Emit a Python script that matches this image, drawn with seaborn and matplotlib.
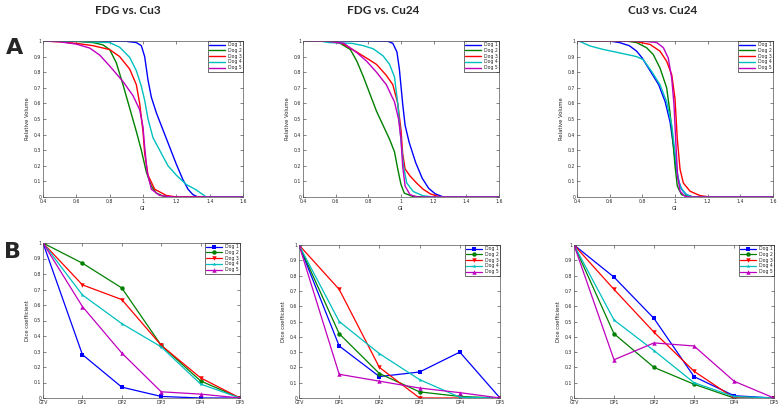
import numpy as np
import pandas as pd
import matplotlib
matplotlib.use("Agg")
import matplotlib.pyplot as plt
import seaborn as sns

dogs = ["Dog 1", "Dog 2", "Dog 3", "Dog 4", "Dog 5"]
colors = ["#0000ff", "#008000", "#ff0000", "#00bfbf", "#bf00bf"]
markers = ["s", "o", "v", "*", "^"]
titles = ["FDG vs. Cu3", "FDG vs. Cu24", "Cu3 vs. Cu24"]

# --- row A: relative volume vs GI ---
# FDG vs. Cu3
a1_gi_dog1 = [0.4, 0.7, 0.9, 0.96, 0.99, 1.01, 1.03, 1.05, 1.08, 1.12, 1.16, 1.20, 1.24, 1.27, 1.30, 1.33, 1.6]
a1_rv_dog1 = [1.0, 1.0, 0.998, 0.99, 0.97, 0.90, 0.75, 0.64, 0.54, 0.43, 0.32, 0.21, 0.11, 0.05, 0.015, 0.0, 0.0]
a1_gi_dog2 = [0.4, 0.6, 0.7, 0.76, 0.80, 0.84, 0.88, 0.92, 0.96, 0.99, 1.02, 1.05, 1.08, 1.12, 1.16, 1.6]
a1_rv_dog2 = [1.0, 0.998, 0.99, 0.975, 0.945, 0.86, 0.72, 0.57, 0.42, 0.30, 0.16, 0.07, 0.025, 0.006, 0.0, 0.0]
a1_gi_dog3 = [0.4, 0.5, 0.6, 0.7, 0.8, 0.86, 0.92, 0.96, 0.98, 1.0, 1.01, 1.03, 1.07, 1.14, 1.2, 1.6]
a1_rv_dog3 = [1.0, 0.995, 0.985, 0.97, 0.945, 0.90, 0.82, 0.72, 0.60, 0.42, 0.28, 0.14, 0.05, 0.01, 0.0, 0.0]
a1_gi_dog4 = [0.4, 0.6, 0.8, 0.86, 0.92, 0.96, 0.99, 1.01, 1.03, 1.06, 1.1, 1.15, 1.2, 1.26, 1.32, 1.38, 1.6]
a1_rv_dog4 = [1.0, 0.998, 0.99, 0.96, 0.895, 0.81, 0.71, 0.62, 0.50, 0.38, 0.30, 0.20, 0.14, 0.08, 0.045, 0.0, 0.0]
a1_gi_dog5 = [0.4, 0.5, 0.6, 0.68, 0.74, 0.80, 0.88, 0.94, 0.98, 1.0, 1.01, 1.025, 1.05, 1.1, 1.18, 1.6]
a1_rv_dog5 = [1.0, 0.995, 0.98, 0.955, 0.91, 0.84, 0.74, 0.65, 0.56, 0.45, 0.32, 0.16, 0.05, 0.01, 0.0, 0.0]

# FDG vs. Cu24
a2_gi_dog1 = [0.4, 0.8, 0.92, 0.95, 0.975, 0.99, 1.01, 1.025, 1.05, 1.09, 1.13, 1.17, 1.21, 1.26, 1.6]
a2_rv_dog1 = [1.0, 1.0, 0.998, 0.985, 0.93, 0.82, 0.60, 0.46, 0.35, 0.22, 0.12, 0.055, 0.02, 0.0, 0.0]
a2_gi_dog2 = [0.4, 0.55, 0.62, 0.69, 0.73, 0.77, 0.81, 0.85, 0.89, 0.93, 0.96, 0.98, 1.0, 1.02, 1.07, 1.14, 1.6]
a2_rv_dog2 = [1.0, 0.998, 0.99, 0.945, 0.87, 0.77, 0.66, 0.55, 0.46, 0.37, 0.29, 0.18, 0.08, 0.025, 0.004, 0.0, 0.0]
a2_gi_dog3 = [0.4, 0.55, 0.64, 0.72, 0.79, 0.85, 0.91, 0.95, 0.98, 1.0, 1.01, 1.025, 1.055, 1.095, 1.135, 1.18, 1.24, 1.6]
a2_rv_dog3 = [1.0, 0.998, 0.985, 0.935, 0.89, 0.85, 0.78, 0.72, 0.60, 0.43, 0.28, 0.18, 0.135, 0.09, 0.05, 0.02, 0.0, 0.0]
a2_gi_dog4 = [0.4, 0.5, 0.56, 0.7, 0.77, 0.83, 0.89, 0.93, 0.96, 0.98, 1.0, 1.015, 1.035, 1.075, 1.135, 1.2, 1.6]
a2_rv_dog4 = [1.0, 1.0, 0.99, 0.985, 0.97, 0.95, 0.905, 0.85, 0.77, 0.60, 0.36, 0.20, 0.09, 0.035, 0.008, 0.0, 0.0]
a2_gi_dog5 = [0.4, 0.55, 0.65, 0.73, 0.79, 0.85, 0.91, 0.96, 0.985, 1.0, 1.01, 1.025, 1.055, 1.1, 1.6]
a2_rv_dog5 = [1.0, 0.998, 0.985, 0.925, 0.87, 0.80, 0.72, 0.61, 0.50, 0.37, 0.20, 0.07, 0.015, 0.0, 0.0]

# Cu3 vs. Cu24
a3_gi_dog1 = [0.4, 0.6, 0.66, 0.72, 0.765, 0.80, 0.85, 0.90, 0.94, 0.97, 0.99, 1.006, 1.02, 1.04, 1.07, 1.11, 1.6]
a3_rv_dog1 = [1.0, 1.0, 0.99, 0.97, 0.935, 0.89, 0.805, 0.72, 0.61, 0.48, 0.33, 0.20, 0.11, 0.05, 0.015, 0.0, 0.0]
a3_gi_dog2 = [0.4, 0.7, 0.765, 0.826, 0.867, 0.908, 0.949, 0.969, 0.986, 1.0, 1.014, 1.04, 1.09, 1.6]
a3_rv_dog2 = [1.0, 1.0, 0.99, 0.957, 0.913, 0.827, 0.70, 0.545, 0.372, 0.20, 0.07, 0.015, 0.0, 0.0]
a3_gi_dog3 = [0.4, 0.7, 0.765, 0.847, 0.908, 0.949, 0.98, 1.0, 1.014, 1.031, 1.051, 1.092, 1.153, 1.214, 1.6]
a3_rv_dog3 = [1.0, 1.0, 0.996, 0.978, 0.935, 0.87, 0.784, 0.63, 0.372, 0.177, 0.09, 0.037, 0.009, 0.0, 0.0]
a3_gi_dog4 = [0.4, 0.42, 0.48, 0.56, 0.66, 0.765, 0.806, 0.857, 0.908, 0.949, 0.98, 1.0, 1.014, 1.031, 1.061, 1.102, 1.6]
a3_rv_dog4 = [1.0, 0.996, 0.968, 0.946, 0.924, 0.90, 0.88, 0.805, 0.72, 0.61, 0.46, 0.286, 0.156, 0.07, 0.022, 0.0, 0.0]
a3_gi_dog5 = [0.4, 0.8, 0.888, 0.929, 0.959, 0.98, 0.994, 1.006, 1.016, 1.031, 1.061, 1.092, 1.6]
a3_rv_dog5 = [1.0, 1.0, 0.99, 0.957, 0.89, 0.76, 0.59, 0.33, 0.134, 0.037, 0.004, 0.0, 0.0]

# --- row B: Dice coefficient per time point ---
timepoints = ["GTV", "DP1", "DP2", "DP3", "DP4", "DP5"]
b1_dog1 = [1.0, 0.28, 0.07, 0.01, 0.0, 0.0]
b1_dog2 = [1.0, 0.87, 0.71, 0.34, 0.11, 0.0]
b1_dog3 = [1.0, 0.73, 0.635, 0.34, 0.13, 0.0]
b1_dog4 = [1.0, 0.665, 0.48, 0.33, 0.09, 0.0]
b1_dog5 = [1.0, 0.59, 0.29, 0.04, 0.025, 0.0]

b2_dog1 = [1.0, 0.34, 0.14, 0.17, 0.30, 0.0]
b2_dog2 = [1.0, 0.42, 0.16, 0.04, 0.01, 0.0]
b2_dog3 = [1.0, 0.71, 0.20, 0.0, 0.0, 0.0]
b2_dog4 = [1.0, 0.50, 0.29, 0.12, 0.005, 0.0]
b2_dog5 = [1.0, 0.155, 0.11, 0.065, 0.035, 0.0]

b3_dog1 = [1.0, 0.79, 0.52, 0.14, 0.015, 0.0]
b3_dog2 = [1.0, 0.42, 0.20, 0.09, 0.0, 0.0]
b3_dog3 = [1.0, 0.71, 0.43, 0.175, 0.0, 0.0]
b3_dog4 = [1.0, 0.51, 0.31, 0.10, 0.01, 0.0]
b3_dog5 = [1.0, 0.25, 0.36, 0.34, 0.11, 0.0]

row_a = [
    [(a1_gi_dog1, a1_rv_dog1), (a1_gi_dog2, a1_rv_dog2), (a1_gi_dog3, a1_rv_dog3),
     (a1_gi_dog4, a1_rv_dog4), (a1_gi_dog5, a1_rv_dog5)],
    [(a2_gi_dog1, a2_rv_dog1), (a2_gi_dog2, a2_rv_dog2), (a2_gi_dog3, a2_rv_dog3),
     (a2_gi_dog4, a2_rv_dog4), (a2_gi_dog5, a2_rv_dog5)],
    [(a3_gi_dog1, a3_rv_dog1), (a3_gi_dog2, a3_rv_dog2), (a3_gi_dog3, a3_rv_dog3),
     (a3_gi_dog4, a3_rv_dog4), (a3_gi_dog5, a3_rv_dog5)],
]
row_b = [
    [b1_dog1, b1_dog2, b1_dog3, b1_dog4, b1_dog5],
    [b2_dog1, b2_dog2, b2_dog3, b2_dog4, b2_dog5],
    [b3_dog1, b3_dog2, b3_dog3, b3_dog4, b3_dog5],
]

sns.set_style("ticks")
plt.rcParams["font.family"] = ["DejaVu Sans"]
plt.rcParams["xtick.direction"] = "in"
plt.rcParams["ytick.direction"] = "in"

W, H = 778, 408
fig = plt.figure(figsize=(W / 100, H / 100), dpi=100)


def px_axes(l, t, r, b):
    return fig.add_axes([l / W, 1 - b / H, (r - l) / W, (b - t) / H])


def style_axes(ax):
    for s in ax.spines.values():
        s.set_linewidth(0.5)
        s.set_color("#555555")
    ax.tick_params(labelsize=3.3, length=2, width=0.4, pad=1.2,
                   top=True, right=True)
    ax.set_yticks(np.arange(0, 1.01, 0.1))
    ax.set_yticklabels(["0"] + [f"{v:.1f}" for v in np.arange(0.1, 0.95, 0.1)] + ["1"])
    ax.set_ylim(0, 1)


def small_legend(ax):
    leg = ax.legend(loc="upper right", fontsize=3.3, frameon=True, fancybox=False,
                    borderaxespad=0, handlelength=3.5, borderpad=0.3,
                    labelspacing=0.15, handletextpad=0.5)
    leg.get_frame().set_edgecolor("black")
    leg.get_frame().set_linewidth(0.5)


a_boxes = [(43, 41, 243, 197), (303, 41, 499, 197), (577, 41, 773, 197)]
b_boxes = [(43, 243, 240, 398), (299, 245, 500, 398), (574, 245, 774, 398)]

for i in range(3):
    ax = px_axes(*a_boxes[i])
    frames = []
    for d, (gi, rv) in enumerate(row_a[i]):
        frames.append(pd.DataFrame({"GI": gi, "RV": rv, "dog": dogs[d]}))
    df = pd.concat(frames, ignore_index=True)
    sns.lineplot(data=df, x="GI", y="RV", hue="dog", palette=colors,
                 sort=False, estimator=None, linewidth=1.0, ax=ax)
    style_axes(ax)
    ax.set_xlim(0.4, 1.6)
    ax.set_xticks([0.4, 0.6, 0.8, 1.0, 1.2, 1.4, 1.6])
    ax.set_xticklabels(["0.4", "0.6", "0.8", "1", "1.2", "1.4", "1.6"])
    ax.set_xlabel("GI", fontsize=3.8, labelpad=1.5)
    ax.set_ylabel("Relative Volume", fontsize=3.8, labelpad=3)
    small_legend(ax)

    bx = px_axes(*b_boxes[i])
    frames = []
    for d, vals in enumerate(row_b[i]):
        frames.append(pd.DataFrame({"tp": range(len(timepoints)), "dice": vals, "dog": dogs[d]}))
    df = pd.concat(frames, ignore_index=True)
    sns.lineplot(data=df, x="tp", y="dice", hue="dog", style="dog", palette=colors,
                 markers=markers, dashes=False, markersize=3.2, markeredgewidth=0,
                 linewidth=0.9, ax=bx)
    style_axes(bx)
    bx.set_xlim(0, len(timepoints) - 1)
    bx.set_xticks(range(len(timepoints)))
    bx.set_xticklabels(timepoints)
    bx.set_xlabel("")
    bx.set_ylabel("Dice coefficient", fontsize=3.8, labelpad=3)
    small_legend(bx)

# column titles and panel letters
title_x = [128, 383, 663]
for t, x in zip(titles, title_x):
    fig.text(x / W, 1 - 10 / H, t, ha="center", va="center", fontsize=8.5,
             fontweight="bold", family=["Lato", "DejaVu Sans"])
fig.text(6 / W, 1 - 48 / H, "A", ha="left", va="center", fontsize=16, fontweight="bold")
fig.text(4 / W, 1 - 252 / H, "B", ha="left", va="center", fontsize=16, fontweight="bold")

fig.savefig("out.png", dpi=100, facecolor="white")
